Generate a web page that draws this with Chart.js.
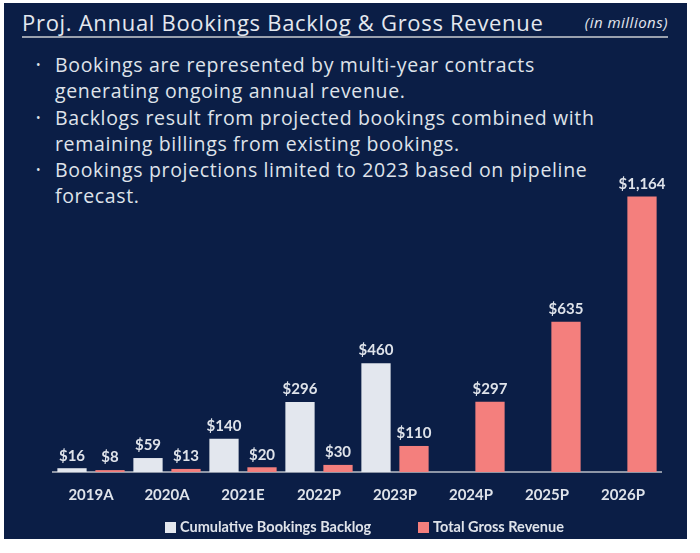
<!DOCTYPE html>
<html>
<head>
<meta charset="utf-8">
<script src="https://cdn.jsdelivr.net/npm/chart.js@4"></script>
<style>
  html, body { margin: 0; padding: 0; background: #ffffff; }
  body { width: 700px; height: 553px; position: relative; overflow: hidden; font-family: "Open Sans", sans-serif; }
  #panel { position: absolute; left: 4px; top: 3px; width: 683px; height: 536px; background: #0b1e46; }
  #title { position: absolute; left: 22px; top: 7px; font-size: 22px; letter-spacing: 0.7px; color: #e4e8ef; white-space: nowrap; }
  #unit { position: absolute; right: 32px; top: 12px; font-size: 15px; letter-spacing: 0.5px; font-style: italic; color: #e4e8ef; }
  #rule { position: absolute; left: 22px; top: 36px; width: 646px; height: 2px; background: #9aa1ae; }
  #notes { position: absolute; left: 36px; top: 52px; margin: 0; padding: 0; list-style: none; font-size: 19.5px; letter-spacing: 0.65px; line-height: 26.3px; color: #dfe3ea; white-space: nowrap; }
  #notes li { position: relative; padding-left: 19px; }
  #notes li::before { content: "\2022"; position: absolute; left: 0; font-size: 12px; }
  #legend { position: absolute; left: 0; top: 518px; width: 700px; font-family: Lato, sans-serif; font-weight: bold; font-size: 14.5px; color: #dfe3ea; line-height: 18px; }
  #legend span { position: absolute; top: 0; white-space: nowrap; }
  #legend i { display: inline-block; width: 11px; height: 11px; margin-right: 4px; vertical-align: -0.5px; }
  canvas { position: absolute; left: 0; top: 0; }
</style>
</head>
<body>
<div id="panel"></div>
<div id="title">Proj. Annual Bookings Backlog &amp; Gross Revenue</div>
<div id="unit">(in millions)</div>
<div id="rule"></div>
<ul id="notes">
  <li>Bookings are represented by multi-year contracts<br>generating ongoing annual revenue.</li>
  <li>Backlogs result from projected bookings combined with<br>remaining billings from existing bookings.</li>
  <li>Bookings projections limited to 2023 based on pipeline<br>forecast.</li>
</ul>
<canvas id="chart" width="700" height="553"></canvas>
<div id="legend"></div>
<script>
const years = ['2019A', '2020A', '2021E', '2022P', '2023P', '2024P', '2025P', '2026P'];
const backlog = [16, 59, 140, 296, 460, null, null, null];
const revenue = [8, 13, 20, 30, 110, 297, 635, 1164];

const seriesNames = ['Cumulative Bookings Backlog', 'Total Gross Revenue'];
const seriesColors = ['#e3e7ee', '#f47f7d'];

// value labels above each bar
const barLabels = {
    id: 'barLabels',
    afterDatasetsDraw(chart) {
        const ctx = chart.ctx;
        ctx.save();
        ctx.font = 'bold 15px Lato, sans-serif';
        ctx.fillStyle = '#dfe3ea';
        ctx.textAlign = 'center';
        ctx.textBaseline = 'bottom';
        chart.data.datasets.forEach((ds, i) => {
            chart.getDatasetMeta(i).data.forEach((bar, j) => {
                const v = ds.data[j];
                if (v == null) return;
                ctx.fillText('$' + v.toLocaleString('en-US'), bar.x, bar.y - 5);
            });
        });
        ctx.restore();
    }
};

const chart = new Chart(document.getElementById('chart'), {
    type: 'bar',
    data: {
        labels: years,
        datasets: [
            { label: seriesNames[0], data: backlog, backgroundColor: seriesColors[0] },
            { label: seriesNames[1], data: revenue, backgroundColor: seriesColors[1] }
        ]
    },
    options: {
        responsive: false,
        animation: false,
        categoryPercentage: 1,
        barPercentage: 0.77,
        layout: { padding: { left: 53, right: 39, top: 188, bottom: 43 } },
        scales: {
            x: {
                grid: { display: false },
                border: { display: true, color: '#8e96a6', width: 2 },
                ticks: { color: '#dfe3ea', padding: 6, font: { family: 'Lato', size: 15, weight: 'bold' } }
            },
            y: { display: false, min: 0, max: 1200 }
        },
        plugins: {
            legend: { display: false },
            tooltip: { enabled: false }
        }
    },
    plugins: [barLabels]
});

// html legend, built from the datasets
const legendX = [165, 418];
const legend = document.getElementById('legend');
chart.data.datasets.forEach((ds, i) => {
    const item = document.createElement('span');
    item.style.left = legendX[i] + 'px';
    item.innerHTML = '<i style="background:' + ds.backgroundColor + '"></i>' + ds.label;
    legend.appendChild(item);
});
</script>
</body>
</html>
